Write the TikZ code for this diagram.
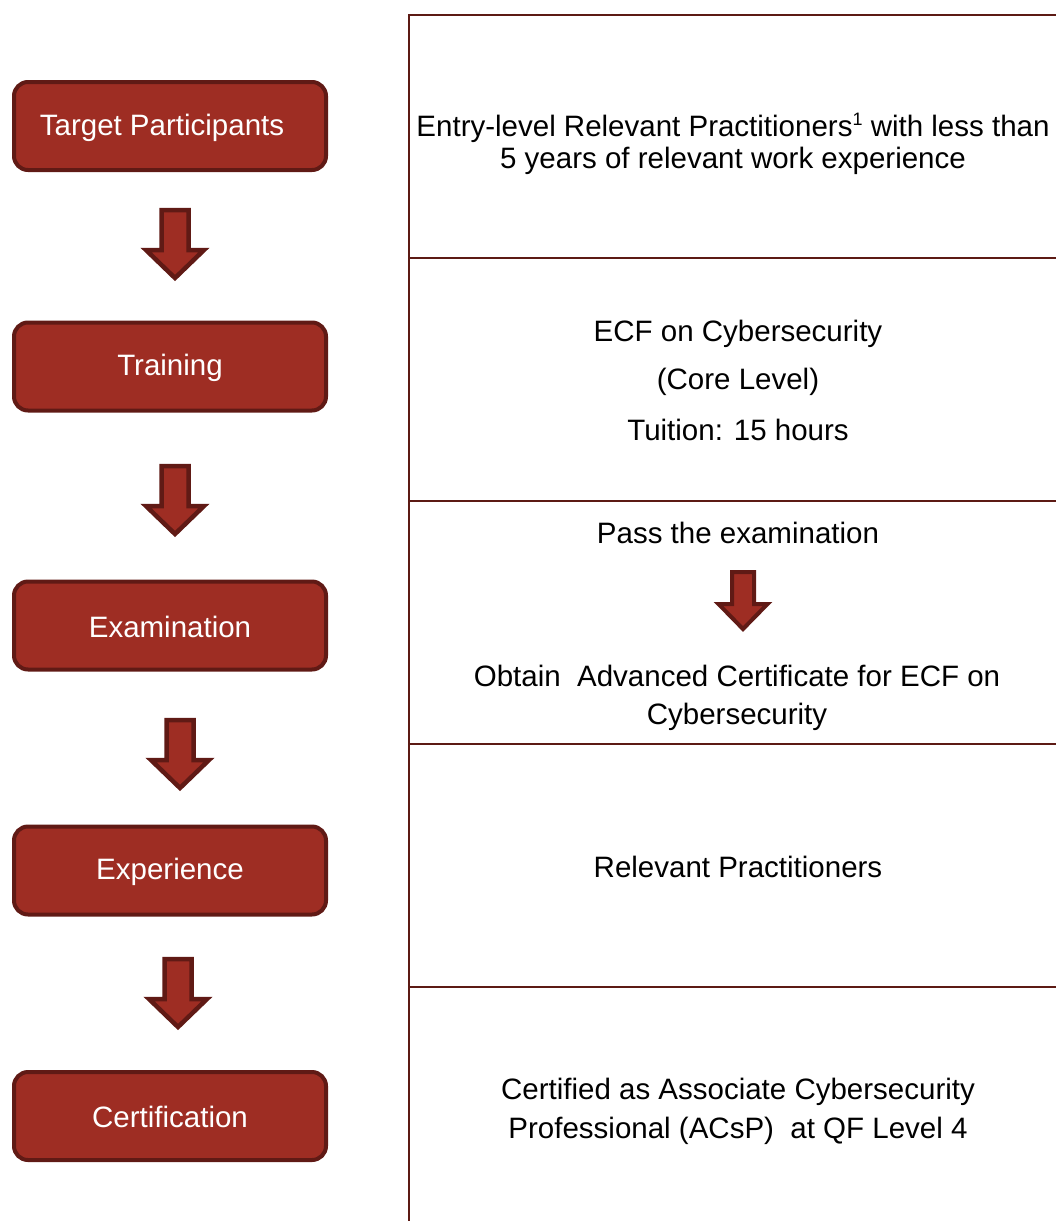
\documentclass[tikz,border=0pt]{standalone}
\usepackage{fontspec}
\setmainfont{Liberation Sans}
\definecolor{boxfill}{HTML}{9E2D23}
\definecolor{boxline}{HTML}{601A15}
\definecolor{tabline}{HTML}{5C1A14}
\begin{document}
\begin{tikzpicture}[x=1pt,y=-1pt,
  stepbox/.style={draw=boxline,fill=boxfill,line width=4pt,rounded corners=14pt,
    minimum width=312pt,minimum height=88pt,text=white,inner sep=0pt,
    font=\fontsize{29.5}{32}\selectfont},
  boxlabel/.style={text=white,inner sep=0pt,font=\fontsize{29.5}{32}\selectfont},
  rtext/.style={align=center,inner sep=0pt,text=black,font=\fontsize{29.5}{32}\selectfont},
  tline/.style={draw=tabline,line width=2pt},
  bigarrow/.pic={\draw[draw=boxline,fill=boxfill,line width=4.5pt,line join=miter,miter limit=10]
    (-13.5,2) -- (13.5,2) -- (13.5,42) -- (29,42) -- (0,70) -- (-29,42) -- (-13.5,42) -- cycle;},
  smallarrow/.pic={\draw[draw=boxline,fill=boxfill,line width=4pt,line join=miter,miter limit=10]
    (-11,2) -- (11,2) -- (11,34) -- (24.5,34) -- (0,59) -- (-24.5,34) -- (-11,34) -- cycle;}
]
\useasboundingbox (0,0) rectangle (1055,1221);
% table
\coordinate (tl) at (409,15);
\coordinate (bl) at (409,1221);
\draw[tline] (tl) -- (bl);
\foreach \yy in {15,258,501,744,987}{\draw[tline] (408,\yy) -- (1056,\yy);}
% left boxes
\node[stepbox] (tp) at (170,126) {};
\node[stepbox] (tr) at (170,366.5) {};
\node[stepbox] (ex) at (170,625.5) {};
\node[stepbox] (xp) at (170,870.5) {};
\node[stepbox] (ce) at (170,1116) {};
\node[boxlabel] (tpl) at ([xshift=-8pt,yshift=-2pt]tp.center) {Target Participants};
\node[boxlabel] (trl) at ([yshift=-1pt]tr.center) {Training};
\node[boxlabel] (exl) at ([yshift=-1pt]ex.center) {Examination};
\node[boxlabel] (xpl) at ([yshift=-1pt]xp.center) {Experience};
\node[boxlabel] (cel) at ([yshift=-1pt]ce.center) {Certification};
% block arrows
\pic at (175,208) {bigarrow};
\pic at (175,464) {bigarrow};
\pic at (180,718) {bigarrow};
\pic at (178,957) {bigarrow};
\pic at (743,570) {smallarrow};
% right column text
\node[rtext] (r1) at (733,144) {Entry-level Relevant Practitioners\raisebox{11pt}{\fontsize{18}{18}\selectfont 1} with less than\\5 years of relevant work experience};
\node[rtext] (r2a) at (738,334) {ECF on Cybersecurity};
\node[rtext] (r2b) at (738,382) {(Core Level)};
\node[rtext] (r2c) at (738,430) {Tuition: 15 hours};
\node[rtext] (r3a) at (738,533) {Pass the examination};
\node[rtext,font=\fontsize{29.5}{38}\selectfont] (r3b) at (737,698) {Obtain~ Advanced Certificate for ECF on\\Cybersecurity};
\node[rtext] (r4) at (738,867) {Relevant Practitioners};
\node[rtext,font=\fontsize{29.5}{39}\selectfont] (r5) at (738,1111) {Certified as Associate Cybersecurity\\Professional (ACsP)~ at QF Level 4};
\end{tikzpicture}
\end{document}
